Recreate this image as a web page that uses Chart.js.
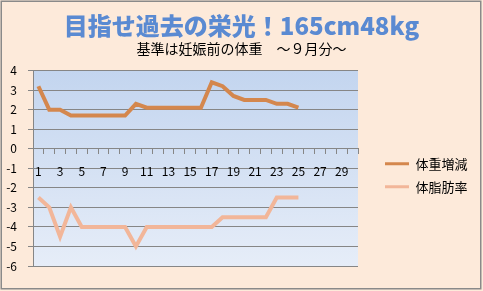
<!DOCTYPE html>
<html><head><meta charset="utf-8">
<script src="https://cdn.jsdelivr.net/npm/chart.js@4/dist/chart.umd.min.js"></script>
<style>html,body{margin:0;padding:0;background:#fff}#wrap{width:483px;height:291px;position:relative}canvas{display:block}</style>
</head><body><div id="wrap"><canvas id="c" width="483" height="291"></canvas></div>
<script>
const titleText = '目指せ過去の栄光！165cm48kg';
const subtitleText = '基準は妊娠前の体重　～９月分～';
const days = ['1','2','3','4','5','6','7','8','9','10','11','12','13','14','15','16','17','18','19','20','21','22','23','24','25','26','27','28','29','30'];
const weightLabel = '体重増減';
const fatLabel = '体脂肪率';
const weightGain = [3.2,2.0,2.0,1.7,1.7,1.7,1.7,1.7,1.7,2.3,2.1,2.1,2.1,2.1,2.1,2.1,3.4,3.2,2.7,2.5,2.5,2.5,2.3,2.3,2.1];
const bodyFat = [-2.5,-3.0,-4.5,-3.0,-4.0,-4.0,-4.0,-4.0,-4.0,-5.0,-4.0,-4.0,-4.0,-4.0,-4.0,-4.0,-4.0,-3.5,-3.5,-3.5,-3.5,-3.5,-2.5,-2.5,-2.5];
const yTicks = {min:-6, max:4, step:1};

const FAM = "'Noto Sans CJK JP', sans-serif";
const GRID = '#868686';
const LEGEND_W = 125;

const bgPlugin = {
  id:'bg',
  beforeLayout(chart){
    const lg = chart.legend;
    if (lg && !lg.__patched) {
      const orig = lg.fit;
      lg.fit = function(){ orig.call(this); this.width = LEGEND_W; };
      lg.__patched = true;
    }
  },
  afterLayout(chart){
    const lg = chart.legend;
    if (lg) { lg.left += 17; lg.right += 17; lg.top += 7; lg.bottom += 7; }
  },
  beforeDraw(chart){
    const {ctx, chartArea:a} = chart;
    ctx.save();
    ctx.fillStyle = '#FDEADA';
    ctx.fillRect(0,0,chart.width,chart.height);
    const g = ctx.createLinearGradient(0,a.top,0,a.bottom);
    g.addColorStop(0,'#C3D5EF');
    g.addColorStop(1,'#E6EDF8');
    ctx.fillStyle = g;
    ctx.fillRect(a.left,a.top,a.right-a.left,a.bottom-a.top);
    ctx.restore();
  },
  afterDraw(chart){
    const ctx = chart.ctx;
    ctx.save();
    ctx.strokeStyle = '#8a8a8a';
    ctx.lineWidth = 1.5;
    ctx.strokeRect(1.25,1.25,chart.width-3.5,chart.height-3.5);
    ctx.restore();
  }
};

new Chart(document.getElementById('c'), {
  type:'line',
  data:{
    labels: days,
    datasets:[
      {label:weightLabel, data:weightGain, borderColor:'#D4874D', backgroundColor:'#D4874D', borderWidth:4, pointRadius:0, tension:0, fill:false},
      {label:fatLabel, data:bodyFat, borderColor:'#F2B699', backgroundColor:'#F2B699', borderWidth:4, pointRadius:0, tension:0, fill:false}
    ]
  },
  options:{
    responsive:false, animation:false, devicePixelRatio:1,
    layout:{padding:{left:0,right:0,top:0,bottom:25}},
    plugins:{
      title:{display:true, text:titleText, color:'#5A8AD2', font:{family:FAM, size:24, weight:'900'}, padding:{top:11,bottom:0}},
      subtitle:{display:true, text:subtitleText, color:'#000', font:{family:FAM, size:14, weight:'normal'}, padding:{top:0,bottom:14}},
      legend:{position:'right', align:'center', fullSize:false,
        labels:{boxWidth:24, boxHeight:3, padding:10, color:'#000', font:{family:FAM, size:13},
          generateLabels: chart => chart.data.datasets.map((d,i)=>({text:d.label, fillStyle:d.borderColor, strokeStyle:d.borderColor, lineWidth:0, hidden:false, datasetIndex:i}))
        }
      },
      tooltip:{enabled:false}
    },
    scales:{
      x:{type:'category', position:{y:0}, offset:true,
        grid:{offset:true, drawOnChartArea:false, drawTicks:true, tickLength:5, color:GRID},
        border:{display:true, color:GRID},
        ticks:{autoSkip:false, maxRotation:0, minRotation:0, padding:10, color:'#000', font:{family:FAM, size:12},
          callback:(v,i)=> (i%2===0 ? days[i] : '')},
        afterFit: s => { s.height = 0; }
      },
      y:{min:yTicks.min, max:yTicks.max,
        ticks:{stepSize:yTicks.step, padding:11, color:'#000', font:{family:FAM, size:12}},
        grid:{color:GRID, tickLength:5},
        border:{display:true, color:GRID},
        afterFit: s => { s.width = 33; }
      }
    }
  },
  plugins:[bgPlugin]
});
</script></body></html>
